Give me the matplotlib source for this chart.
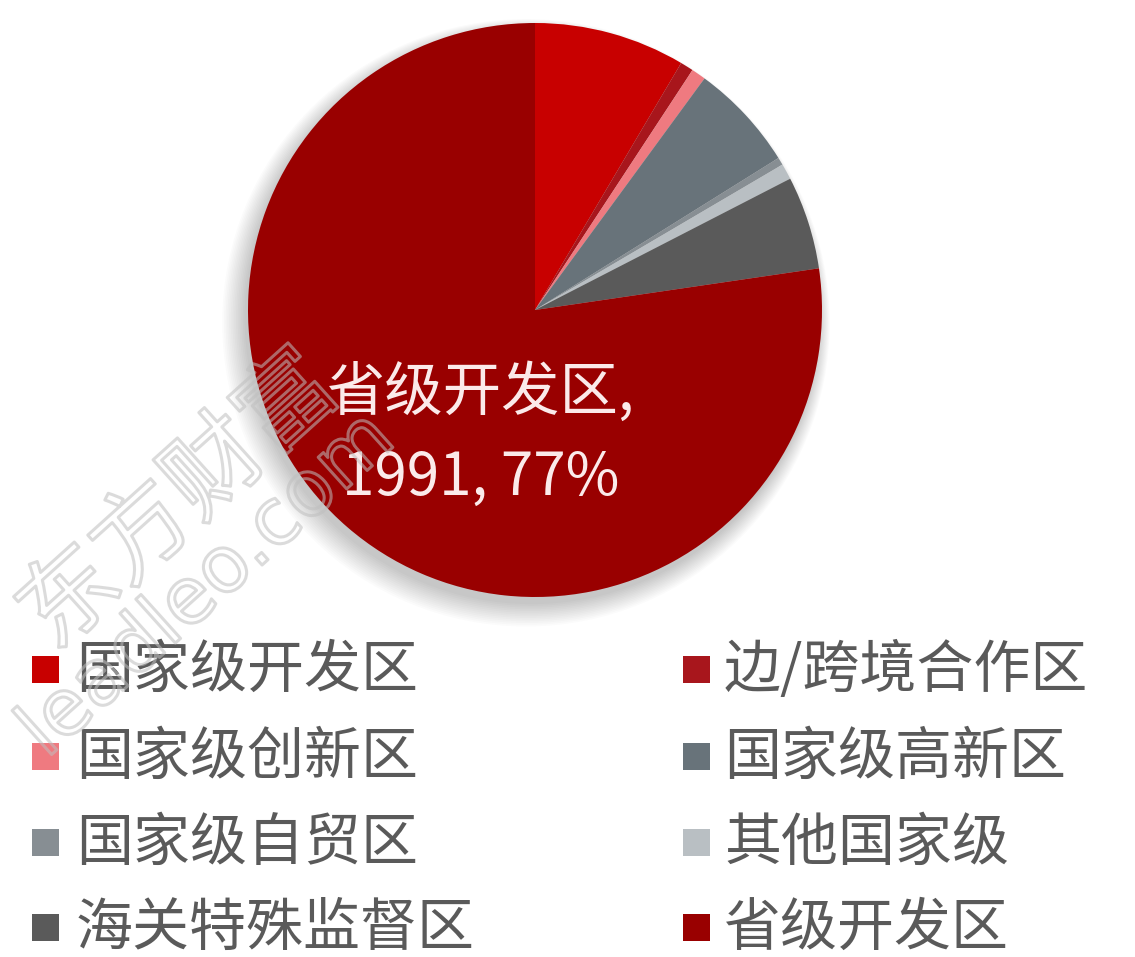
import matplotlib
matplotlib.use("Agg")
import matplotlib.pyplot as plt
from matplotlib.patches import Rectangle, Circle
import matplotlib.patheffects as pe

plt.rcParams['font.family'] = ['Noto Sans CJK SC', 'DejaVu Sans']

categories = ["国家级开发区", "边/跨境合作区", "国家级创新区", "国家级高新区",
              "国家级自贸区", "其他国家级", "海关特殊监督区", "省级开发区"]
values = [219, 19, 21, 156, 11, 23, 135, 1991]
colors = ["#c80000", "#a8161c", "#ef7a80", "#68737a",
          "#878e93", "#b9bfc3", "#5a5a5a", "#990000"]

W, H = 1135, 957
fig = plt.figure(figsize=(W / 100, H / 100), dpi=100)
fig.patch.set_facecolor("white")

cx, cy, r = 535, 310, 287
ax = fig.add_axes([(cx - r) / W, (H - cy - r) / H, 2 * r / W, 2 * r / H])
ax.axis('off')

# soft shadow
for i in range(14):
    ax.add_patch(Circle((-0.012 - i * 0.0015, -0.025 - i * 0.0015), 1.0 + i * 0.0045,
                        color="black", alpha=0.016, zorder=0, lw=0, clip_on=False))

wedges, _ = ax.pie(values, colors=colors, startangle=90, counterclock=False,
                   radius=1.0, wedgeprops=dict(linewidth=0, zorder=1))
ax.set_xlim(-1, 1)
ax.set_ylim(-1, 1)
ax.set_aspect('auto')

total = sum(values)
last = len(values) - 1
label = f"{categories[last]},\n{values[last]}, {round(values[last] / total * 100)}%"
fig.text(481 / W, 1 - 436 / H, label, ha="center", va="center", fontsize=42,
         color="#fbeaea", linespacing=1.5)

# legend (manual, two columns, row-major)
row_y = [669, 756, 842, 927]
col_marker_x = [32, 683]
col_text_x = [76, 724]
msz = 27
for i, (cat, col) in enumerate(zip(categories, colors)):
    row, c = divmod(i, 2)
    y = row_y[row]
    fig.patches.append(Rectangle((col_marker_x[c] / W, 1 - (y + msz / 2) / H),
                                 msz / W, msz / H, transform=fig.transFigure,
                                 facecolor=col, edgecolor="none", figure=fig))
    fig.text(col_text_x[c] / W, 1 - (y + 2) / H, cat, ha="left", va="center",
             fontsize=41, color="#5a5a5a")

# watermark (outlined, translucent)
wm_fx = [pe.withStroke(linewidth=2.2, foreground=(0.75, 0.75, 0.75, 0.55))]
fig.text(180 / W, 1 - 502 / H, "东方财富", ha="center", va="center", fontsize=70,
         rotation=42, color=(1, 1, 1, 0.0), path_effects=wm_fx, zorder=5)
fig.text(207 / W, 1 - 585 / H, "leadleo.com", ha="center", va="center", fontsize=56,
         rotation=42, color=(1, 1, 1, 0.0), path_effects=wm_fx, zorder=5,
         family=["DejaVu Sans"])

fig.savefig("out.png", dpi=100, facecolor="white")
